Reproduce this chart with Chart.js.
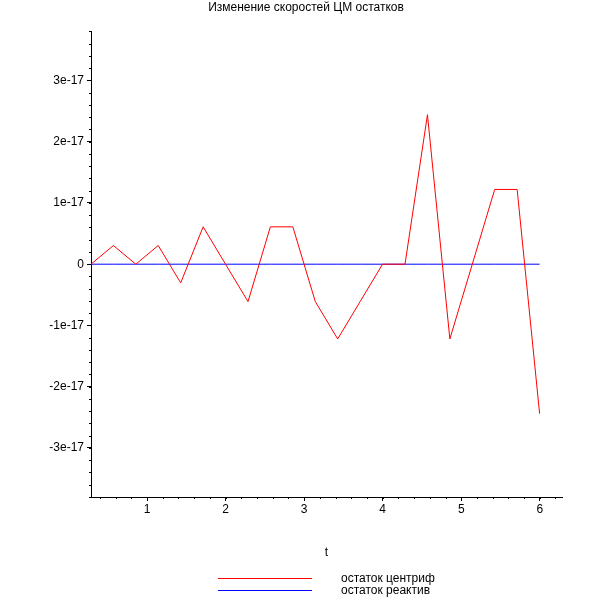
<!DOCTYPE html>
<html>
<head>
<meta charset="utf-8">
<script src="https://cdn.jsdelivr.net/npm/chart.js@4/dist/chart.umd.min.js"></script>
<style>
    body { margin: 0; background: #fff; }
    #wrap { position: relative; width: 612px; height: 612px; }
    #legend { position: absolute; left: 0; top: 0; font-family: "Liberation Sans", Arial, sans-serif; font-size: 12px; color: #000; }
    .leg-line { position: absolute; left: 218px; width: 94px; height: 1px; }
    .leg-text { position: absolute; left: 341px; line-height: 14px; white-space: nowrap; }
</style>
</head>
<body>
<div id="wrap">
    <canvas id="chart" width="612" height="612"></canvas>
    <div id="legend"></div>
</div>
<script>
// time points (t), 2*pi/22 apart
const tValues = [0.286, 0.571, 0.857, 1.142, 1.428, 1.714, 1.999, 2.285, 2.570, 2.856, 3.142,
                 3.427, 3.713, 3.998, 4.284, 4.570, 4.855, 5.141, 5.426, 5.712, 5.998];
const centrifResid = [0, 3.05e-18, 0, 3.05e-18, -3.05e-18, 6.1e-18, 0, -6.1e-18, 6.1e-18, 6.1e-18, -6.1e-18,
                      -1.22e-17, -6.1e-18, 0, 0, 2.44e-17, -1.22e-17, 0, 1.22e-17, 1.22e-17, -2.44e-17];
const reactResid = [0, 0, 0, 0, 0, 0, 0, 0, 0, 0, 0, 0, 0, 0, 0, 0, 0, 0, 0, 0, 0];
const seriesLabels = ['остаток центриф', 'остаток реактив'];
const seriesColors = ['#ff0000', '#0000ff'];
const xTicks = [1, 2, 3, 4, 5, 6];
const yTicks = [-3e-17, -2e-17, -1e-17, 0, 1e-17, 2e-17, 3e-17];
const xRange = [0.286, 6.283];
const yRange = [-3.8e-17, 3.8e-17];

const FONT = '"Liberation Sans", Arial, sans-serif';

// short minor ticks, 4 between each pair of major ticks
const minorTicks = {
    id: 'minorTicks',
    afterDraw(chart) {
        const ctx = chart.ctx;
        const xs = chart.scales.x, ys = chart.scales.y;
        ctx.save();
        ctx.strokeStyle = '#000';
        ctx.lineWidth = 1;
        ctx.beginPath();
        const xStep = (xTicks[1] - xTicks[0]) / 5;
        for (let v = xTicks[0] - 5 * xStep; v <= xRange[1]; v += xStep) {
            if (v < xRange[0]) continue;
            const px = Math.round(xs.getPixelForValue(v)) + 0.5;
            ctx.moveTo(px, xs.top);
            ctx.lineTo(px, xs.top + 2);
        }
        const yStep = (yTicks[1] - yTicks[0]) / 5;
        for (let v = yTicks[0] - 5 * yStep; v <= yRange[1]; v += yStep) {
            if (v < yRange[0]) continue;
            const py = Math.round(ys.getPixelForValue(v)) + 0.5;
            ctx.moveTo(ys.right, py);
            ctx.lineTo(ys.right - 2, py);
        }
        ctx.stroke();
        ctx.restore();
    }
};

const datasets = [centrifResid, reactResid].map((vals, i) => ({
    label: seriesLabels[i],
    data: vals.map((v, j) => ({ x: tValues[j], y: v })),
    borderColor: seriesColors[i],
    borderWidth: 1,
    pointRadius: 0,
    tension: 0,
    fill: false
}));

new Chart(document.getElementById('chart'), {
    type: 'line',
    data: { datasets: datasets },
    options: {
        responsive: false,
        animation: false,
        layout: { padding: { left: 0, right: 0, top: 0, bottom: 45 } },
        plugins: {
            legend: { display: false },
            tooltip: { enabled: false },
            title: {
                display: true,
                text: 'Изменение скоростей ЦМ остатков',
                color: '#000',
                font: { family: FONT, size: 12, weight: 'normal' },
                padding: { top: 0, bottom: 17 }
            }
        },
        scales: {
            x: {
                type: 'linear',
                min: xRange[0],
                max: xRange[1],
                afterBuildTicks: s => { s.ticks = xTicks.map(v => ({ value: v })); },
                afterFit: s => { s.height = 70; },
                ticks: {
                    color: '#000',
                    font: { family: FONT, size: 12 },
                    padding: 1,
                    maxRotation: 0,
                    callback: v => String(v)
                },
                grid: { drawOnChartArea: false, tickLength: 4, tickColor: '#000' },
                border: { color: '#000', width: 1 },
                title: {
                    display: true,
                    text: 't',
                    color: '#000',
                    font: { family: FONT, size: 12 },
                    padding: { top: 0, bottom: 7 }
                }
            },
            y: {
                type: 'linear',
                min: yRange[0],
                max: yRange[1],
                afterBuildTicks: s => { s.ticks = yTicks.map(v => ({ value: v })); },
                afterFit: s => { s.width = 91; },
                ticks: {
                    color: '#000',
                    font: { family: FONT, size: 12 },
                    padding: 3,
                    callback: v => v === 0 ? '0' : Math.round(v / 1e-17) + 'e-17'
                },
                grid: { drawOnChartArea: false, tickLength: 4, tickColor: '#000' },
                border: { color: '#000', width: 1 }
            },
            // empty space on the right so the title stays centred on the page
            yRight: {
                type: 'linear',
                position: 'right',
                afterFit: s => { s.width = 50; },
                ticks: { display: false },
                grid: { display: false },
                border: { display: false }
            }
        }
    },
    plugins: [minorTicks]
});

// legend below the plot
const legend = document.getElementById('legend');
const legendRows = [578, 590];
seriesLabels.forEach((label, i) => {
    const line = document.createElement('div');
    line.className = 'leg-line';
    line.style.top = legendRows[i] + 'px';
    line.style.background = seriesColors[i];
    legend.appendChild(line);
    const text = document.createElement('div');
    text.className = 'leg-text';
    text.style.top = (legendRows[i] - 7) + 'px';
    text.textContent = label;
    legend.appendChild(text);
});
</script>
</body>
</html>
